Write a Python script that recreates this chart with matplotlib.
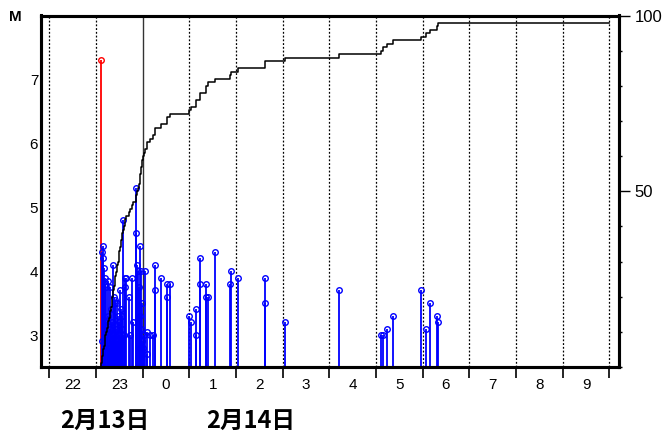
import matplotlib
matplotlib.use("Agg")
import matplotlib.pyplot as plt
from matplotlib.ticker import MultipleLocator, FixedLocator, NullFormatter

plt.rcParams['font.family'] = ['Liberation Sans', 'DejaVu Sans']

# 発生時刻 (2月13日22時〜, 12時前の時刻は翌14日)
times = [
    "23:07",
    "23:08", "23:08", "23:09", "23:09", "23:10", "23:11",
    "23:12", "23:12", "23:13", "23:14", "23:15",
    "23:16", "23:17", "23:18", "23:18", "23:19", "23:20",
    "23:21", "23:21", "23:22", "23:22", "23:23", "23:24", "23:24",
    "23:25", "23:26", "23:27", "23:27", "23:28",
    "23:29", "23:30", "23:30", "23:31", "23:32", "23:32", "23:33",
    "23:34", "23:35", "23:36", "23:37", "23:37",
    "23:39", "23:42", "23:44", "23:46", "23:48",
    "23:51", "23:52", "23:53", "23:54", "23:55", "23:56",
    "23:57", "23:57", "23:58", "23:58", "23:59", "23:59",
    "0:01", "0:02", "0:03", "0:05", "0:06", "0:09", "0:13",
    "0:16", "0:16", "0:24", "0:31", "0:31", "0:35",
    "0:59", "1:02", "1:08", "1:08", "1:14", "1:14", "1:21",
    "1:21", "1:24", "1:33", "1:52", "1:54", "2:02",
    "2:37", "2:37", "3:03", "4:12",
    "5:07", "5:09", "5:14", "5:22",
    "5:58", "6:04", "6:09", "6:19", "6:20",
]

# マグニチュード
mags = [
    7.3,
    4.3, 2.9, 4.4, 4.2, 4.05, 3.9,
    3.8, 3.0, 3.75, 3.2, 3.85,
    3.3, 2.8, 3.75, 3.1, 3.4, 2.9,
    3.2, 2.7, 4.1, 3.0, 3.6, 3.5, 2.8,
    3.55, 3.1, 2.9, 3.5, 3.3,
    3.0, 3.2, 2.8, 3.7, 3.4, 2.9, 3.1,
    3.3, 4.8, 3.0, 3.9, 3.75,
    3.9, 3.6, 3.0, 3.9, 3.2,
    5.3, 4.6, 4.1, 4.0, 3.75, 4.4,
    3.3, 2.8, 4.0, 3.1, 3.5, 2.9,
    2.8, 3.0, 4.0, 3.05, 2.7, 3.0, 3.0,
    4.1, 3.7, 3.9, 3.8, 3.6, 3.8,
    3.3, 3.2, 3.4, 3.0, 4.2, 3.8, 3.8,
    3.6, 3.6, 4.3, 3.8, 4.0, 3.9,
    3.9, 3.5, 3.2, 3.7,
    3.0, 3.0, 3.1, 3.3,
    3.7, 3.1, 3.5, 3.3, 3.2,
]

hour_labels = ["22", "23", "0", "1", "2", "3", "4", "5", "6", "7", "8", "9"]
date_labels = ["2月13日", "2月14日"]


def to_hours(s):
    hh, mm = s.split(":")
    h = int(hh) + int(mm) / 60.0
    if h < 12:
        h += 24
    return h


t = [to_hours(s) for s in times]
t_end = 34.0
m_min = 2.5

fig = plt.figure(figsize=(6.64, 4.38), dpi=100)
ax = fig.add_axes([41 / 664, 71 / 438, 578 / 664, 351.5 / 438])
ax.set_xlim(21.822, 34.207)
ax.set_ylim(m_min, 8)

# 時刻の縦線 (0時は実線)
for h in range(22, 35):
    if h == 24:
        ax.axvline(h, color='#333333', lw=1.0, zorder=1)
    else:
        ax.axvline(h, color='black', lw=0.9, ls=(0, (1.5, 1.5)), zorder=1)

# M-T 図
main = mags.index(max(mags))
for i in range(len(t)):
    c = 'red' if i == main else 'blue'
    ax.vlines(t[i], m_min, mags[i], color=c, lw=1.3, zorder=2)
    ax.plot(t[i], mags[i], 'o', ms=4.0, mfc='none', mec=c, mew=1.0, zorder=3)

ax.set_yticks([3, 4, 5, 6, 7])
ax.tick_params(axis='y', length=0, pad=2, labelsize=11)
ax.xaxis.set_major_locator(MultipleLocator(1))
ax.xaxis.set_major_formatter(NullFormatter())
ax.xaxis.set_minor_locator(FixedLocator([22.5 + i for i in range(len(hour_labels))]))
ax.set_xticklabels(hour_labels, minor=True)
ax.tick_params(axis='x', which='major', direction='out', length=8, width=1.2)
ax.tick_params(axis='x', which='minor', length=0, pad=8, labelsize=11)

# 回数積算図
ax2 = ax.twinx()
n = len(t)
xs = [t[0]] + t + [t_end]
ys = [0] + list(range(1, n + 1)) + [n]
ax2.step(xs, ys, where='post', color='black', lw=1.1, zorder=4)
ax2.set_ylim(0, 100)
ax2.set_yticks([50, 100])
ax2.yaxis.set_minor_locator(MultipleLocator(10))
ax2.tick_params(axis='y', which='major', direction='out', length=8, width=1.0, pad=3, labelsize=12)
ax2.tick_params(axis='y', which='minor', direction='out', length=2.5, width=1.0)

for a in (ax, ax2):
    for sp in a.spines.values():
        sp.set_linewidth(2.2)

fig.text(15 / 664, 1 - 17 / 438, "M", fontsize=11, fontweight='bold', ha='center', va='center')
fig.text(105 / 664, 1 - 421 / 438, date_labels[0], fontsize=17, fontweight='bold',
         family=['Noto Sans CJK JP', 'DejaVu Sans'], ha='center', va='center')
fig.text(251 / 664, 1 - 421 / 438, date_labels[1], fontsize=17, fontweight='bold',
         family=['Noto Sans CJK JP', 'DejaVu Sans'], ha='center', va='center')

fig.savefig('out.png', dpi=100)
